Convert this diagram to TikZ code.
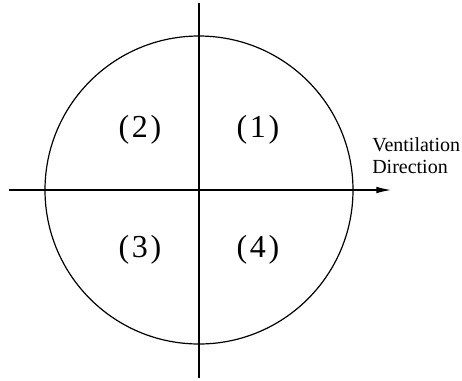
\documentclass[tikz,border=0pt]{standalone}
\usepackage{fontspec}
\setmainfont{Liberation Serif}
\usetikzlibrary{arrows.meta}

\begin{document}
\begin{tikzpicture}[
	x=0.75pt,
	y=-0.75pt,
	duct/.style={
		circle,
		draw=black,
		line width=0.9pt,
		minimum size=231pt,
		inner sep=0pt
	},
	axis/.style={line width=0.9pt, black},
	flow/.style={-{Latex[length=11pt,width=5pt]}, line width=0.9pt, black},
	zone/.style={font=\fontsize{24}{28}\selectfont, align=center},
	note/.style={font=\fontsize{15}{16.5}\selectfont, align=left, anchor=north west, inner sep=0pt}
]
\useasboundingbox (0,0) rectangle (462,380);

\node[duct] (tube) at (199,190) {};

\coordinate (top) at (199,3);
\coordinate (bottom) at (199,378);
\coordinate (left) at (9,190);
\coordinate (tip) at (391,190);

\node[zone] (q1) at (258,130) {(\kern2pt1\kern2pt)};
\node[zone] (q2) at (140,130) {(\kern2pt2\kern2pt)};
\node[zone] (q3) at (140,250) {(\kern2pt3\kern2pt)};
\node[zone] (q4) at (258,250) {(\kern2pt4\kern2pt)};

\node[note] (vent) at (372,137) {Ventilation\\Direction};

\draw[axis] (top) -- (bottom);
\draw[flow] (left) -- (tip);
\end{tikzpicture}
\end{document}
